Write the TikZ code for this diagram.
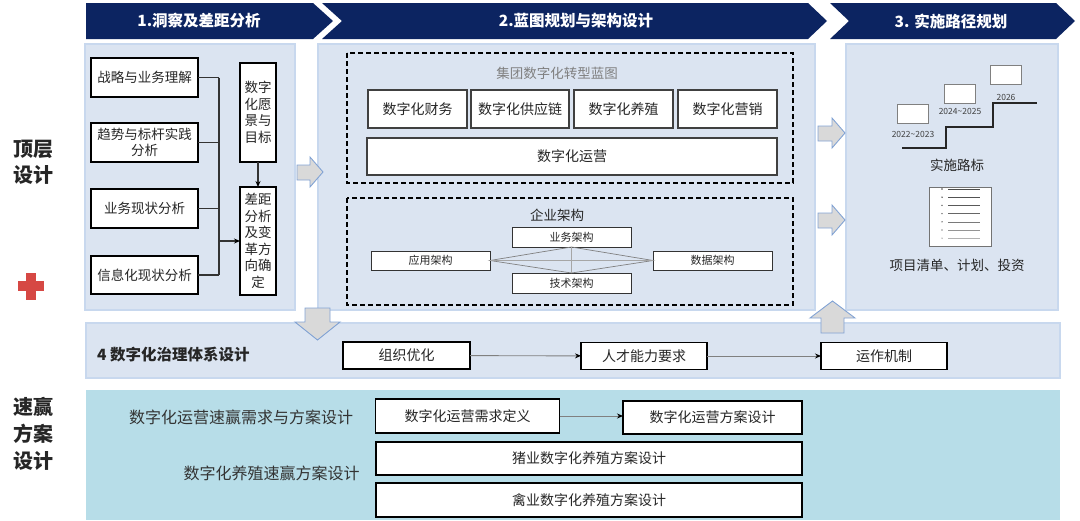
\documentclass[tikz,border=0pt]{standalone}
\usepackage{fontspec}
\setmainfont{Noto Sans CJK SC}
\usetikzlibrary{arrows.meta}
\definecolor{navy}{RGB}{12,36,97}
\definecolor{panelbg}{RGB}{219,228,241}
\definecolor{panelbd}{RGB}{200,216,238}
\definecolor{speedbg}{RGB}{183,221,232}
\definecolor{arrfill}{RGB}{217,217,217}
\definecolor{arrbd}{RGB}{130,163,212}
\definecolor{txt}{RGB}{38,38,38}
\definecolor{plusred}{RGB}{214,72,68}
\begin{document}
\begin{tikzpicture}[x=1pt,y=-1pt,
  panel/.style={fill=panelbg, draw=panelbd, line width=1.2pt},
  hdrtxt/.style={text=white, inner sep=0pt, font=\bfseries\fontsize{15.5}{18}\selectfont},
  tbox/.style={draw=black, line width=1.8pt, fill=white, inner sep=0pt, outer sep=0pt, align=center, font=\fontsize{13.5}{16.5}\selectfont, text=txt},
  gbox/.style={draw=black!75, line width=1.1pt, fill=white, inner sep=0pt, outer sep=0pt, font=\fontsize{14}{16}\selectfont, text=txt},
  sbox/.style={draw=black!80, line width=0.8pt, fill=white, inner sep=0pt, outer sep=0pt, font=\fontsize{11}{13}\selectfont, text=txt},
  ybox/.style={draw=black!50, line width=0.8pt, fill=white, inner sep=0pt, outer sep=0pt, minimum width=31pt, minimum height=19pt},
  ylab/.style={inner sep=0pt, font=\fontsize{8.5}{10}\selectfont, text=black!75},
  lbl/.style={inner sep=0pt, font=\fontsize{13.5}{16}\selectfont, text=txt},
  side/.style={inner sep=0pt, align=center, font=\bfseries\fontsize{20}{26}\selectfont, text=txt},
  blk/.style={fill=arrfill, draw=arrbd, line width=0.9pt},
  conn/.style={draw=black!80, line width=1.1pt},
  gconn/.style={draw=black!50, line width=0.9pt},
  dashbox/.style={draw=black, line width=1.8pt, dash pattern=on 5pt off 3pt},
  tip/.style={-{Stealth[length=6pt,width=5pt,color=black]}}
]
\useasboundingbox (0,0) rectangle (1080,520);

% ---------- headers ----------
\fill[navy] (86,3) -- (313,3) -- (333,21) -- (313,39) -- (86,39) -- cycle;
\fill[navy] (322,3) -- (808,3) -- (827,21) -- (808,39) -- (322,39) -- (342,21) -- cycle;
\fill[navy] (830,3) -- (1056,3) -- (1075,21) -- (1056,39) -- (830,39) -- (849,21) -- cycle;
\node[hdrtxt] (h1) at (199,21) {1.洞察及差距分析};
\node[hdrtxt] (h2) at (576,21) {2.蓝图规划与架构设计};
\node[hdrtxt] (h3) at (951,21) {3. 实施路径规划};

% ---------- panels ----------
\path[panel] (85,44) rectangle (295,310);
\path[panel] (318,44) rectangle (815,310);
\path[panel] (846,44) rectangle (1058,310);
\path[panel] (86,323) rectangle (1060,378);
\fill[speedbg] (86,390) rectangle (1060,520);

% ---------- side labels ----------
\node[side] (top) at (33,162) {顶层\\设计};
\fill[plusred] (18,281) rectangle (44,291);
\fill[plusred] (26,273) rectangle (36,300);
\node[side, font=\bfseries\fontsize{20}{27}\selectfont] (quick) at (33,434) {速赢\\方案\\设计};

% ---------- panel 1 ----------
\node[tbox, minimum width=107pt, minimum height=39pt] (s1) at (144.5,77.5) {战略与业务理解};
\node[tbox, minimum width=107pt, minimum height=39pt] (s2) at (144.5,142.5) {趋势与标杆实践\\分析};
\node[tbox, minimum width=107pt, minimum height=39pt] (s3) at (144.5,208.5) {业务现状分析};
\node[tbox, minimum width=107pt, minimum height=38pt] (s4) at (144.5,275) {信息化现状分析};
\node[tbox, minimum width=36pt, minimum height=99pt] (vis) at (258,112.5) {数字\\化愿\\景与\\目标};
\node[tbox, minimum width=36pt, minimum height=108pt] (gap) at (258,241) {差距\\分析\\及变\\革方\\向确\\定};
\coordinate (j) at (219,241);
\foreach \n in {s1,s2,s3,s4} \draw[conn] (\n.east) -- (\n.east -| j);
\draw[conn] (s1.east -| j) -- (s4.east -| j);
\draw[conn, tip] (j) -- (gap.west);
\draw[conn, tip] (vis.south) -- (gap.north);

% ---------- panel 2 ----------
\draw[dashbox] (347,53) rectangle (793,183);
\node[lbl, text=black!50] (bp) at (557,73) {集团数字化转型蓝图};
\node[gbox, minimum width=99pt, minimum height=38pt] (b1) at (417.5,109) {数字化财务};
\node[gbox, minimum width=98pt, minimum height=38pt] (b2) at (520,109) {数字化供应链};
\node[gbox, minimum width=99pt, minimum height=38pt] (b3) at (623.5,109) {数字化养殖};
\node[gbox, minimum width=99pt, minimum height=38pt] (b4) at (727.5,109) {数字化营销};
\node[gbox, minimum width=410pt, minimum height=37pt] (b5) at (572,156.5) {数字化运营};

\draw[dashbox] (347,198) rectangle (793,305);
\node[lbl] (ea) at (557,215) {企业架构};
\node[sbox, minimum width=119pt, minimum height=20pt] (ywa) at (571.5,237) {业务架构};
\node[sbox, minimum width=119pt, minimum height=20pt] (jsa) at (571.5,283) {技术架构};
\node[sbox, minimum width=119pt, minimum height=19pt] (yya) at (430.5,260.5) {应用架构};
\node[sbox, minimum width=119pt, minimum height=19pt] (sja) at (712.5,260.5) {数据架构};
\draw[gconn, line width=0.7pt] (yya.east) -- (ywa.south) -- (sja.west) -- (jsa.north) -- cycle;
\draw[gconn, line width=0.6pt, draw=black!35] (yya.east) -- (sja.west);
\draw[gconn, line width=0.6pt, draw=black!35] (ywa.south) -- (jsa.north);

% ---------- panel 3 ----------
\draw[line width=2pt, draw=black!85] (902,148) -- (946,148) -- (946,127) -- (993,127) -- (993,103) -- (1037,103);
\node[ybox] (y1) at (912.5,113.5) {};
\node[ybox] (y2) at (959.5,93.5) {};
\node[ybox] (y3) at (1006,75) {};
\node[ylab] (l1) at (913,134) {2022\textasciitilde 2023};
\node[ylab] (l2) at (960,111) {2024\textasciitilde 2025};
\node[ylab] (l3) at (1006,97) {2026};
\node[lbl] (ms) at (957,165) {实施路标};
\node[draw=black!55, line width=0.8pt, fill=white, minimum width=62pt, minimum height=59pt, inner sep=0pt] (doc) at (960,216.5) {};
\foreach \i/\c in {0/70,1/68,2/65,3/60,4/52,5/42,6/30} {
  \fill[black!\c] (942,{189+8.2*\i}) circle (0.8pt);
  \draw[black!\c, line width=0.6pt] (948,{189+8.2*\i}) -- (980,{189+8.2*\i});
}
\node[lbl] (pl) at (957,265) {项目清单、计划、投资};

% ---------- block arrows ----------
\path[blk] (297,165) -- (310,165) -- (310,157) -- (323,172) -- (310,187) -- (310,180) -- (297,180) -- cycle;
\path[blk] (818,126) -- (832,126) -- (832,118) -- (845,133) -- (832,148) -- (832,141) -- (818,141) -- cycle;
\path[blk] (818,213) -- (832,213) -- (832,205) -- (845,220) -- (832,235) -- (832,228) -- (818,228) -- cycle;
\path[blk] (305,308) -- (330,308) -- (330,322) -- (340,322) -- (317.5,340) -- (295,322) -- (305,322) -- cycle;
\path[blk] (821,333) -- (844,333) -- (844,318) -- (855,318) -- (832.5,301) -- (810,318) -- (821,318) -- cycle;

% ---------- governance ----------
\node[inner sep=0pt, anchor=west, font=\bfseries\fontsize{15.5}{18}\selectfont, text=txt] (gov) at (97,355) {4 数字化治理体系设计};
\node[gbox, draw=black, line width=1.8pt, minimum width=127pt, minimum height=27pt] (g1) at (406.5,355.5) {组织优化};
\node[gbox, draw=black, line width=1.8pt, minimum width=126pt, minimum height=27pt] (g2) at (644,356) {人才能力要求};
\node[gbox, draw=black, line width=1.8pt, minimum width=126pt, minimum height=27pt] (g3) at (884,356) {运作机制};
\draw[gconn, tip] (g1) -- (g2);
\draw[gconn, tip] (g2) -- (g3);

% ---------- quick win ----------
\node[inner sep=0pt, font=\fontsize{16}{19}\selectfont, text=black!80] (q1) at (241,417) {数字化运营速赢需求与方案设计};
\node[inner sep=0pt, font=\fontsize{16}{19}\selectfont, text=black!80] (q2) at (271.5,473) {数字化养殖速赢方案设计};
\node[gbox, draw=black, line width=1.8pt, minimum width=184pt, minimum height=34pt] (w1) at (467.5,416) {数字化运营需求定义};
\node[gbox, draw=black, line width=1.8pt, minimum width=179pt, minimum height=33pt] (w2) at (712.5,417.5) {数字化运营方案设计};
\node[gbox, draw=black, line width=1.8pt, minimum width=426pt, minimum height=33pt] (w3) at (589,458.5) {猪业数字化养殖方案设计};
\node[gbox, draw=black, line width=1.8pt, minimum width=426pt, minimum height=34pt] (w4) at (589,500) {禽业数字化养殖方案设计};
\draw[gconn, tip] (w1) -- (w1 -| w2.west);
\end{tikzpicture}
\end{document}
